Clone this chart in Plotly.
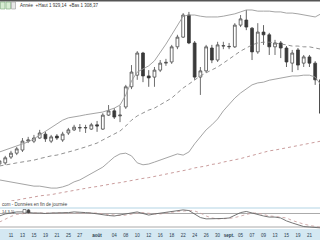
import plotly.graph_objects as go

# trading days (category axis)
dates = [
    "2011-07-07", "2011-07-08", "2011-07-11", "2011-07-12", "2011-07-13", "2011-07-14", "2011-07-15",
    "2011-07-18", "2011-07-19", "2011-07-20", "2011-07-21", "2011-07-22", "2011-07-25", "2011-07-26",
    "2011-07-27", "2011-07-28", "2011-07-29", "2011-08-01", "2011-08-02", "2011-08-03", "2011-08-04",
    "2011-08-05", "2011-08-08", "2011-08-09", "2011-08-10", "2011-08-11", "2011-08-12", "2011-08-15",
    "2011-08-16", "2011-08-17", "2011-08-18", "2011-08-19", "2011-08-22", "2011-08-23", "2011-08-24",
    "2011-08-25", "2011-08-26", "2011-08-29", "2011-08-30", "2011-08-31", "2011-09-01", "2011-09-02",
    "2011-09-05", "2011-09-06", "2011-09-07", "2011-09-08", "2011-09-09", "2011-09-12", "2011-09-13",
    "2011-09-14", "2011-09-15", "2011-09-16", "2011-09-19", "2011-09-20", "2011-09-21", "2011-09-22",
    "2011-09-23",
]

open_ = [1527, 1530, 1545, 1555, 1563, 1586, 1586, 1594, 1604, 1586, 1599, 1589, 1607, 1615, 1620, 1620,
         1617, 1628, 1617, 1653, 1664, 1651, 1674, 1726, 1756, 1813, 1754, 1751, 1769, 1787, 1790, 1829,
         1854, 1911, 1839, 1751, 1767, 1826, 1795, 1831, 1829, 1829, 1885, 1898, 1877, 1816, 1867, 1860,
         1829, 1839, 1826, 1787, 1821, 1787, 1803, 1787, 1744]
high = [1540, 1548, 1561, 1571, 1594, 1597, 1602, 1615, 1610, 1602, 1604, 1610, 1620, 1628, 1630, 1628,
        1633, 1638, 1658, 1679, 1671, 1677, 1731, 1782, 1818, 1816, 1769, 1777, 1795, 1798, 1834, 1860,
        1916, 1919, 1844, 1777, 1834, 1834, 1842, 1842, 1839, 1890, 1911, 1924, 1880, 1890, 1885, 1865,
        1847, 1844, 1831, 1821, 1826, 1808, 1808, 1792, 1749]
low = [1522, 1525, 1540, 1550, 1558, 1581, 1581, 1592, 1584, 1581, 1589, 1584, 1602, 1612, 1610, 1607,
       1615, 1610, 1615, 1651, 1643, 1635, 1669, 1720, 1744, 1738, 1726, 1726, 1764, 1780, 1785, 1823,
       1852, 1836, 1744, 1705, 1762, 1787, 1790, 1823, 1823, 1826, 1880, 1872, 1795, 1811, 1834, 1808,
       1808, 1800, 1777, 1764, 1769, 1777, 1777, 1731, 1651]
close = [1535, 1543, 1555, 1566, 1586, 1589, 1594, 1607, 1592, 1597, 1594, 1604, 1615, 1622, 1621, 1621,
         1628, 1625, 1653, 1664, 1648, 1653, 1726, 1764, 1813, 1754, 1749, 1769, 1787, 1789, 1829, 1854,
         1911, 1839, 1751, 1767, 1829, 1795, 1834, 1832, 1830, 1885, 1901, 1880, 1816, 1867, 1860, 1829,
         1839, 1826, 1790, 1813, 1782, 1803, 1787, 1744, 1658]

boll_upper = [1558, 1563, 1568, 1573, 1579, 1584, 1592, 1602, 1610, 1620, 1630, 1640, 1646, 1648, 1651,
              1654, 1656, 1659, 1661, 1666, 1671, 1679, 1705, 1741, 1764, 1772, 1780, 1793, 1813, 1836,
              1860, 1885, 1908, 1911, 1911, 1908, 1906, 1906, 1906, 1908, 1911, 1914, 1919, 1924, 1924,
              1921, 1921, 1921, 1919, 1919, 1916, 1916, 1914, 1911, 1908, 1906, 1914]
boll_mid = [1522, 1524, 1527, 1530, 1532, 1535, 1537, 1541, 1545, 1548, 1550, 1555, 1558, 1562, 1566,
            1571, 1576, 1581, 1589, 1597, 1604, 1612, 1625, 1640, 1651, 1659, 1666, 1671, 1679, 1687,
            1697, 1710, 1723, 1733, 1744, 1754, 1762, 1769, 1777, 1787, 1798, 1808, 1818, 1826, 1834,
            1839, 1841, 1841, 1839, 1836, 1834, 1831, 1831, 1829, 1829, 1826, 1823]
boll_lower = [1486, 1483, 1481, 1478, 1476, 1473, 1470, 1470, 1468, 1465, 1465, 1468, 1473, 1481, 1486,
              1494, 1501, 1509, 1519, 1532, 1545, 1553, 1555, 1548, 1530, 1525, 1527, 1532, 1537, 1543,
              1548, 1553, 1550, 1558, 1579, 1597, 1615, 1628, 1643, 1664, 1682, 1697, 1710, 1720, 1731,
              1736, 1738, 1743, 1746, 1749, 1751, 1754, 1754, 1756, 1756, 1751, 1731]
ma_long = [1427, 1429, 1432, 1434, 1437, 1439, 1442, 1445, 1446, 1448, 1451, 1454, 1456, 1459, 1461,
           1464, 1467, 1469, 1472, 1474, 1477, 1479, 1482, 1485, 1487, 1490, 1492, 1495, 1497, 1500,
           1504, 1507, 1510, 1513, 1517, 1519, 1522, 1526, 1528, 1532, 1535, 1537, 1541, 1545, 1549,
           1553, 1557, 1561, 1563, 1566, 1570, 1573, 1576, 1579, 1581, 1584, 1586]

stoch_k = [69, 78, 82, 87, 87, 84, 82, 82, 80, 82, 82, 82, 84, 87, 87, 84, 82, 78, 73, 71, 69, 73, 80, 84,
           87, 80, 73, 78, 82, 87, 91, 93, 96, 93, 78, 62, 56, 56, 56, 58, 60, 73, 84, 89, 82, 73, 69, 64,
           64, 60, 47, 38, 29, 22, 20, 18, 16]
stoch_d = [42, 56, 67, 76, 80, 82, 82, 82, 82, 82, 82, 82, 82, 84, 84, 84, 84, 82, 78, 76, 73, 71, 73, 78,
           82, 84, 80, 78, 78, 82, 87, 89, 91, 93, 91, 82, 69, 60, 56, 56, 58, 62, 69, 78, 82, 82, 76, 69,
           67, 64, 60, 49, 40, 33, 27, 22, 18]
stoch_levels = [80, 20]

tick_dates = ["2011-07-07", "2011-07-11", "2011-07-13", "2011-07-15", "2011-07-19", "2011-07-21",
              "2011-07-25", "2011-07-27", "2011-08-01", "2011-08-04", "2011-08-08", "2011-08-10",
              "2011-08-12", "2011-08-16", "2011-08-18", "2011-08-22", "2011-08-24", "2011-08-26",
              "2011-08-30", "2011-09-01", "2011-09-05", "2011-09-07", "2011-09-09", "2011-09-13",
              "2011-09-15", "2011-09-19", "2011-09-21", "2011-09-23"]
tick_labels = ["07", "11", "13", "15", "19", "21", "25", "27", "<b>août</b>", "04", "08", "10", "12", "16",
               "18", "22", "24", "26", "30", "<b>sept.</b>", "05", "07", "09", "13", "15", "19", "21", "23"]

header_text = "Année  +Haut 1 929,14  +Bas 1 308,37"
footer_text = "com - Données en fin de journée"
osc_text = "14,3,5)"

W, H = 320, 240
FONT = "Liberation Sans"

fig = go.Figure()

fig.add_trace(go.Scatter(x=dates, y=ma_long, mode="lines", line=dict(color="#c49292", width=0.9, dash="dot"),
                         xaxis="x", yaxis="y", hoverinfo="skip"))
fig.add_trace(go.Scatter(x=dates, y=boll_upper, mode="lines", line=dict(color="#9a9a9a", width=0.9),
                         xaxis="x", yaxis="y", hoverinfo="skip"))
fig.add_trace(go.Scatter(x=dates, y=boll_lower, mode="lines", line=dict(color="#9a9a9a", width=0.9),
                         xaxis="x", yaxis="y", hoverinfo="skip"))
fig.add_trace(go.Scatter(x=dates, y=boll_mid, mode="lines",
                         line=dict(color="#858585", width=0.9, dash="4px,3px"),
                         xaxis="x", yaxis="y", hoverinfo="skip"))
fig.add_trace(go.Candlestick(
    x=dates, open=open_, high=high, low=low, close=close,
    increasing=dict(line=dict(color="#4a4a4a", width=0.8), fillcolor="#ffffff"),
    decreasing=dict(line=dict(color="#3a3a3a", width=0.8), fillcolor="#3a3a3a"),
    whiskerwidth=0, xaxis="x", yaxis="y"))

fig.add_trace(go.Scatter(x=dates, y=stoch_d, mode="lines", line=dict(color="#c9a3a3", width=0.9, dash="dot"),
                         xaxis="x2", yaxis="y2", hoverinfo="skip"))
fig.add_trace(go.Scatter(x=dates, y=stoch_k, mode="lines", line=dict(color="#666666", width=0.9),
                         xaxis="x2", yaxis="y2", hoverinfo="skip"))

x_range = [0.087, 55.84]
main_dom = [1 - 201 / H, 1]
osc_dom = [(H - 229) / H, (H - 208) / H]

shapes = [
    # date band
    dict(type="rect", xref="paper", yref="paper", x0=0, x1=1, y0=0, y1=11 / H,
         fillcolor="#d4e8f2", line=dict(width=0), layer="below"),
    # oscillator top border
    dict(type="line", xref="paper", yref="paper", x0=0, x1=1, y0=osc_dom[1], y1=osc_dom[1],
         line=dict(color="#b3d4e4", width=1)),
    # top border
    dict(type="line", xref="paper", yref="paper", x0=0, x1=1, y0=1 - 0.5 / H, y1=1 - 0.5 / H,
         line=dict(color="#555555", width=2)),
    # header icons
    dict(type="rect", xref="paper", yref="paper", x0=0.5 / W, x1=5 / W, y0=1 - 9 / H, y1=1 - 2 / H,
         fillcolor="#d6ecd2", line=dict(color="#7aa87a", width=0.6)),
    dict(type="rect", xref="paper", yref="paper", x0=6 / W, x1=10.5 / W, y0=1 - 9 / H, y1=1 - 2 / H,
         fillcolor="#d6ecd2", line=dict(color="#7aa87a", width=0.6)),
    dict(type="rect", xref="paper", yref="paper", x0=11.5 / W, x1=15.5 / W, y0=1 - 9 / H, y1=1 - 2 / H,
         fillcolor="#e8e8e8", line=dict(color="#999999", width=0.6)),
    # oscillator icons
    dict(type="rect", xref="paper", yref="paper", x0=23 / W, x1=26 / W, y0=1 - 213 / H, y1=1 - 209.5 / H,
         fillcolor="#ffffff", line=dict(color="#444444", width=0.6)),
    dict(type="circle", xref="paper", yref="paper", x0=27 / W, x1=30 / W, y0=1 - 213 / H, y1=1 - 209.5 / H,
         fillcolor="#444444", line=dict(color="#444444", width=0.6)),
]
for lvl in stoch_levels:
    shapes.append(dict(type="line", xref="paper", yref="y2", x0=0, x1=1, y0=lvl, y1=lvl,
                       line=dict(color="#a0a0a0", width=0.9), layer="below"))

annotations = [
    dict(text=header_text, x=17.5 / W, y=1 - 5 / H, xref="paper", yref="paper", xanchor="left",
         yanchor="middle", showarrow=False, font=dict(family=FONT, size=4.5, color="#333333")),
    dict(text=footer_text, x=0, y=1 - 204.5 / H, xref="paper", yref="paper", xanchor="left",
         yanchor="middle", showarrow=False, font=dict(family=FONT, size=4.5, color="#444444")),
    dict(text=osc_text, x=0, y=1 - 211.5 / H, xref="paper", yref="paper", xanchor="left",
         yanchor="middle", showarrow=False, font=dict(family=FONT, size=4, color="#444444")),
]

fig.update_layout(
    width=W, height=H, margin=dict(l=0, r=0, t=0, b=0),
    paper_bgcolor="#ffffff", plot_bgcolor="rgba(0,0,0,0)",
    showlegend=False, boxgap=0.3,
    xaxis=dict(type="category", domain=[0, 1], range=x_range, anchor="y", showticklabels=False,
               showgrid=False, zeroline=False, showline=False, ticks="",
               rangeslider=dict(visible=False)),
    xaxis2=dict(type="category", domain=[0, 1], range=x_range, anchor="y2", matches="x",
                tickmode="array", tickvals=tick_dates, ticktext=tick_labels, ticks="",
                showgrid=False, zeroline=False, showline=False, ticklabelstandoff=2,
                tickfont=dict(family=FONT, size=4.5, color="#2c3e50")),
    yaxis=dict(domain=main_dom, range=[1431.7, 1949.7], visible=False),
    yaxis2=dict(domain=osc_dom, range=[11.1, 104.4], visible=False),
    shapes=shapes, annotations=annotations,
)

fig.write_html("out.html")
